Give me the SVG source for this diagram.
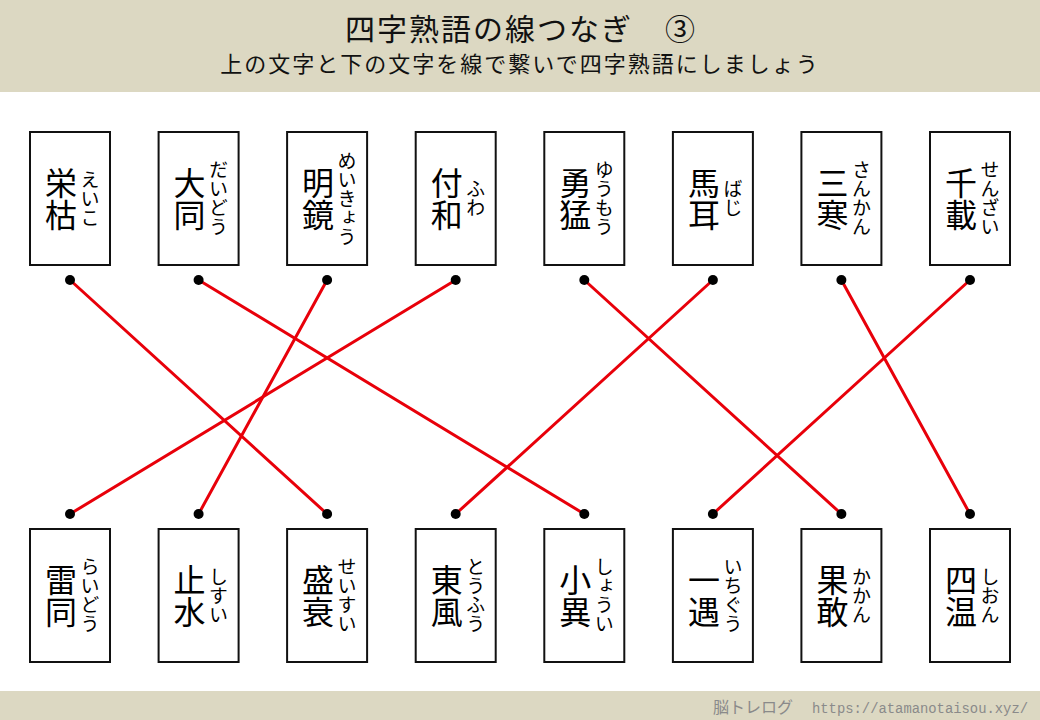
<svg xmlns="http://www.w3.org/2000/svg" width="1040" height="720" viewBox="0 0 1040 720">
<style>
.band{fill:#dcd8c2}
.title{font-family:"Noto Sans CJK JP","Noto Sans",sans-serif;fill:#111;text-anchor:middle}
.card rect{fill:#fff;stroke:#111;stroke-width:2}
.kanji{font-family:"Noto Sans CJK JP",sans-serif;font-size:32px;fill:#000;writing-mode:vertical-rl;text-anchor:middle}
.kana{font-family:"Noto Sans CJK JP",sans-serif;font-size:19px;fill:#000;writing-mode:vertical-rl;text-anchor:middle}
.dot{fill:#000}
.conn line{stroke:#e8000a;stroke-width:3;stroke-linecap:round}
.foot{font-family:"Noto Sans CJK JP",sans-serif;fill:#8a8a8a}
</style>
<rect width="1040" height="720" fill="#fff"/>
<rect class="band" x="0" y="0" width="1040" height="92"/>
<rect class="band" x="0" y="691" width="1040" height="29"/>
<text class="title" x="521" y="40" font-size="30" letter-spacing="2">四字熟語の線つなぎ　③</text>
<text class="title" x="520" y="72" font-size="22" letter-spacing="2">上の文字と下の文字を線で繋いで四字熟語にしましょう</text>
<text class="foot" x="713" y="713" font-size="16">脳トレログ</text>
<text class="foot" x="812" y="713" font-family="'Liberation Mono',monospace" font-size="14" textLength="216" lengthAdjust="spacingAndGlyphs" style="font-family:'Liberation Mono',monospace">https://atamanotaisou.xyz/</text>

<g id="connectors" class="conn">
<line x1="70" y1="280" x2="327.1" y2="514"/>
<line x1="198.6" y1="280" x2="584.3" y2="514"/>
<line x1="327.1" y1="280" x2="198.6" y2="514"/>
<line x1="455.7" y1="280" x2="70" y2="514"/>
<line x1="584.3" y1="280" x2="841.4" y2="514"/>
<line x1="712.9" y1="280" x2="455.7" y2="514"/>
<line x1="841.4" y1="280" x2="970" y2="514"/>
<line x1="970" y1="280" x2="712.9" y2="514"/>
</g>

<g id="top-eiko" class="card" transform="translate(30,132)"><rect x="0" y="0" width="80" height="133"/><text class="kanji" x="31" y="66.5">栄枯</text><text class="kana" x="60" y="66.5">えいこ</text><circle class="dot" cx="40" cy="148" r="5"/></g>
<g id="top-daido" class="card" transform="translate(158.6,132)"><rect x="0" y="0" width="80" height="133"/><text class="kanji" x="31" y="66.5">大同</text><text class="kana" x="60" y="66.5">だいどう</text><circle class="dot" cx="40" cy="148" r="5"/></g>
<g id="top-meikyo" class="card" transform="translate(287.1,132)"><rect x="0" y="0" width="80" height="133"/><text class="kanji" x="31" y="66.5">明鏡</text><text class="kana" x="60" y="66.5">めいきょう</text><circle class="dot" cx="40" cy="148" r="5"/></g>
<g id="top-fuwa" class="card" transform="translate(415.7,132)"><rect x="0" y="0" width="80" height="133"/><text class="kanji" x="31" y="66.5">付和</text><text class="kana" x="60" y="66.5">ふわ</text><circle class="dot" cx="40" cy="148" r="5"/></g>
<g id="top-yumo" class="card" transform="translate(544.3,132)"><rect x="0" y="0" width="80" height="133"/><text class="kanji" x="31" y="66.5">勇猛</text><text class="kana" x="60" y="66.5">ゆうもう</text><circle class="dot" cx="40" cy="148" r="5"/></g>
<g id="top-baji" class="card" transform="translate(672.9,132)"><rect x="0" y="0" width="80" height="133"/><text class="kanji" x="31" y="66.5">馬耳</text><text class="kana" x="60" y="66.5">ばじ</text><circle class="dot" cx="40" cy="148" r="5"/></g>
<g id="top-sankan" class="card" transform="translate(801.4,132)"><rect x="0" y="0" width="80" height="133"/><text class="kanji" x="31" y="66.5">三寒</text><text class="kana" x="60" y="66.5">さんかん</text><circle class="dot" cx="40" cy="148" r="5"/></g>
<g id="top-senzai" class="card" transform="translate(930,132)"><rect x="0" y="0" width="80" height="133"/><text class="kanji" x="31" y="66.5">千載</text><text class="kana" x="60" y="66.5">せんざい</text><circle class="dot" cx="40" cy="148" r="5"/></g>

<g id="bottom-raido" class="card" transform="translate(30,529)"><rect x="0" y="0" width="80" height="133"/><text class="kanji" x="31" y="66.5">雷同</text><text class="kana" x="60" y="66.5">らいどう</text><circle class="dot" cx="40" cy="-15" r="5"/></g>
<g id="bottom-shisui" class="card" transform="translate(158.6,529)"><rect x="0" y="0" width="80" height="133"/><text class="kanji" x="31" y="66.5">止水</text><text class="kana" x="60" y="66.5">しすい</text><circle class="dot" cx="40" cy="-15" r="5"/></g>
<g id="bottom-seisui" class="card" transform="translate(287.1,529)"><rect x="0" y="0" width="80" height="133"/><text class="kanji" x="31" y="66.5">盛衰</text><text class="kana" x="60" y="66.5">せいすい</text><circle class="dot" cx="40" cy="-15" r="5"/></g>
<g id="bottom-tofu" class="card" transform="translate(415.7,529)"><rect x="0" y="0" width="80" height="133"/><text class="kanji" x="31" y="66.5">東風</text><text class="kana" x="60" y="66.5">とうふう</text><circle class="dot" cx="40" cy="-15" r="5"/></g>
<g id="bottom-shoi" class="card" transform="translate(544.3,529)"><rect x="0" y="0" width="80" height="133"/><text class="kanji" x="31" y="66.5">小異</text><text class="kana" x="60" y="66.5">しょうい</text><circle class="dot" cx="40" cy="-15" r="5"/></g>
<g id="bottom-ichigu" class="card" transform="translate(672.9,529)"><rect x="0" y="0" width="80" height="133"/><text class="kanji" x="31" y="66.5">一遇</text><text class="kana" x="60" y="66.5">いちぐう</text><circle class="dot" cx="40" cy="-15" r="5"/></g>
<g id="bottom-kakan" class="card" transform="translate(801.4,529)"><rect x="0" y="0" width="80" height="133"/><text class="kanji" x="31" y="66.5">果敢</text><text class="kana" x="60" y="66.5">かかん</text><circle class="dot" cx="40" cy="-15" r="5"/></g>
<g id="bottom-shion" class="card" transform="translate(930,529)"><rect x="0" y="0" width="80" height="133"/><text class="kanji" x="31" y="66.5">四温</text><text class="kana" x="60" y="66.5">しおん</text><circle class="dot" cx="40" cy="-15" r="5"/></g>
</svg>
